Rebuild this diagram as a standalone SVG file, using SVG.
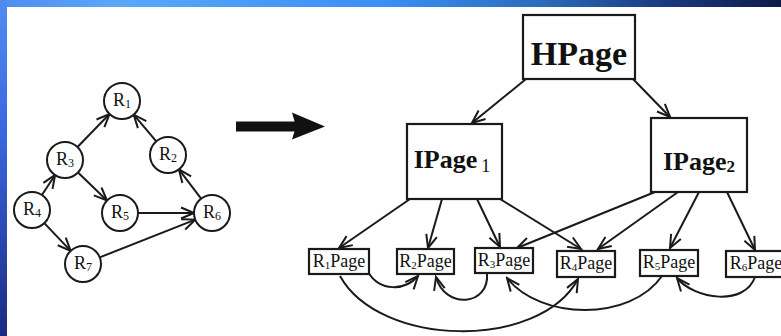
<svg xmlns="http://www.w3.org/2000/svg" width="781" height="336" viewBox="0 0 781 336">
<defs>
<linearGradient id="topg" x1="0" y1="0" x2="1" y2="0">
<stop offset="0" stop-color="#4f8cf0"/>
<stop offset="0.15" stop-color="#5aa8f8"/>
<stop offset="0.5" stop-color="#3a8ef5"/>
<stop offset="0.7" stop-color="#2a6ab8"/>
<stop offset="0.85" stop-color="#1a3a80"/>
<stop offset="1" stop-color="#0e1a48"/>
</linearGradient>
<linearGradient id="leftg" x1="0" y1="0" x2="0" y2="1">
<stop offset="0" stop-color="#4f8cf0"/>
<stop offset="0.4" stop-color="#3a66e0"/>
<stop offset="1" stop-color="#1a2a80"/>
</linearGradient>
<marker id="ah" viewBox="-16 -8 18 16" markerWidth="18" markerHeight="16" refX="0" refY="0" orient="auto" markerUnits="userSpaceOnUse">
<path d="M-13,-5.5 L0,0 L-13,5.5" fill="none" stroke="#1a1a1a" stroke-width="2"/>
</marker>
</defs>
<style>
.c{fill:#fff;stroke:#1a1a1a;stroke-width:2}
.b{fill:#fff;stroke:#1a1a1a;stroke-width:2.2}
.e{fill:none;stroke:#1a1a1a;stroke-width:2;marker-end:url(#ah)}
.t{font-family:"Liberation Serif","Times New Roman",serif;fill:#111;text-anchor:middle}
.big{font-weight:bold}
</style>
<rect x="0" y="0" width="781" height="336" fill="#fff"/>
<rect x="0" y="0" width="781" height="7" fill="url(#topg)"/>
<rect x="0" y="0" width="7" height="336" fill="url(#leftg)"/>

<g id="connectors">
<line class="e" x1="77.5" y1="147" x2="109.5" y2="114"/>
<line class="e" x1="156.3" y1="141.3" x2="133.7" y2="114.7"/>
<line class="e" x1="41.9" y1="195" x2="55.1" y2="175"/>
<line class="e" x1="78" y1="172.5" x2="107" y2="200.5"/>
<line class="e" x1="138" y1="213" x2="194" y2="213"/>
<line class="e" x1="201.1" y1="198.7" x2="178.9" y2="169.3"/>
<line class="e" x1="44.3" y1="223.1" x2="70.7" y2="250.9"/>
<line class="e" x1="99.7" y1="257.4" x2="195.3" y2="219.6"/>

<line class="e" x1="526" y1="79" x2="472" y2="123"/>
<line class="e" x1="633" y1="79" x2="670" y2="117"/>
<line class="e" x1="410" y1="199" x2="339" y2="248"/>
<line class="e" x1="442" y1="199" x2="428" y2="248"/>
<line class="e" x1="477" y1="199" x2="500" y2="247"/>
<line class="e" x1="500" y1="199" x2="581" y2="249"/>
<line class="e" x1="655" y1="192" x2="517" y2="248"/>
<line class="e" x1="678" y1="192" x2="598" y2="249"/>
<line class="e" x1="699" y1="192" x2="670" y2="248"/>
<line class="e" x1="727" y1="192" x2="755" y2="250"/>

<path class="e" d="M368,272 C380,292 405,291 418,276"/>
<path class="e" d="M487,273 C490,306 445,310 436,277"/>
<path class="e" d="M340,276 C380,348 540,350 578,279"/>
<path class="e" d="M662,276 C630,322 540,320 507,278"/>
<path class="e" d="M755,277 C745,306 695,300 677,278"/>
</g>

<g id="bigarrow">
<rect x="236" y="121.5" width="60" height="10" fill="#111"/>
<path d="M292,112.5 L325,126.5 L292,139.5 L296,126.5 Z" fill="#111"/>
</g>

<g id="R1"><circle class="c" cx="122" cy="101" r="18"/><text class="t" x="122" y="106" font-size="18">R<tspan font-size="12" dy="2">1</tspan></text></g>
<g id="R2"><circle class="c" cx="168" cy="155" r="18"/><text class="t" x="168" y="160" font-size="18">R<tspan font-size="12" dy="2">2</tspan></text></g>
<g id="R3"><circle class="c" cx="65" cy="160" r="18"/><text class="t" x="65" y="165" font-size="18">R<tspan font-size="12" dy="2">3</tspan></text></g>
<g id="R4"><circle class="c" cx="32" cy="210" r="18"/><text class="t" x="32" y="215" font-size="18">R<tspan font-size="12" dy="2">4</tspan></text></g>
<g id="R5"><circle class="c" cx="120" cy="213" r="18"/><text class="t" x="120" y="218" font-size="18">R<tspan font-size="12" dy="2">5</tspan></text></g>
<g id="R6"><circle class="c" cx="212" cy="213" r="18"/><text class="t" x="212" y="218" font-size="18">R<tspan font-size="12" dy="2">6</tspan></text></g>
<g id="R7"><circle class="c" cx="83" cy="264" r="18"/><text class="t" x="83" y="269" font-size="18">R<tspan font-size="12" dy="2">7</tspan></text></g>

<g id="HPage"><rect class="b" x="523" y="15" width="112" height="64"/><text class="t big" x="579" y="65" font-size="34">HPage</text></g>
<g id="IPage1"><rect class="b" x="407" y="124" width="95" height="75"/><text class="t big" x="452" y="168" font-size="26">IPage<tspan font-weight="normal" font-size="18" dx="4" dy="4">1</tspan></text></g>
<g id="IPage2"><rect class="b" x="651" y="118" width="96" height="74"/><text class="t big" x="699" y="170" font-size="26">IPage<tspan font-size="17" dy="2">2</tspan></text></g>

<g id="R1Page"><rect class="b" x="309" y="249" width="60" height="25"/><text class="t" x="339" y="267" font-size="18">R<tspan font-size="11" dy="2">1</tspan><tspan dy="-2">Page</tspan></text></g>
<g id="R2Page"><rect class="b" x="397" y="249" width="57" height="25"/><text class="t" x="425.5" y="267" font-size="18">R<tspan font-size="11" dy="2">2</tspan><tspan dy="-2">Page</tspan></text></g>
<g id="R3Page"><rect class="b" x="475" y="248" width="58" height="25"/><text class="t" x="504" y="266" font-size="18">R<tspan font-size="11" dy="2">3</tspan><tspan dy="-2">Page</tspan></text></g>
<g id="R4Page"><rect class="b" x="557" y="251" width="58" height="26"/><text class="t" x="586" y="269" font-size="18">R<tspan font-size="11" dy="2">4</tspan><tspan dy="-2">Page</tspan></text></g>
<g id="R5Page"><rect class="b" x="640" y="250" width="58" height="26"/><text class="t" x="669" y="268" font-size="18">R<tspan font-size="11" dy="2">5</tspan><tspan dy="-2">Page</tspan></text></g>
<g id="R6Page"><rect class="b" x="726" y="251" width="60" height="26"/><text class="t" x="756" y="269" font-size="18">R<tspan font-size="11" dy="2">6</tspan><tspan dy="-2">Page</tspan></text></g>
</svg>
